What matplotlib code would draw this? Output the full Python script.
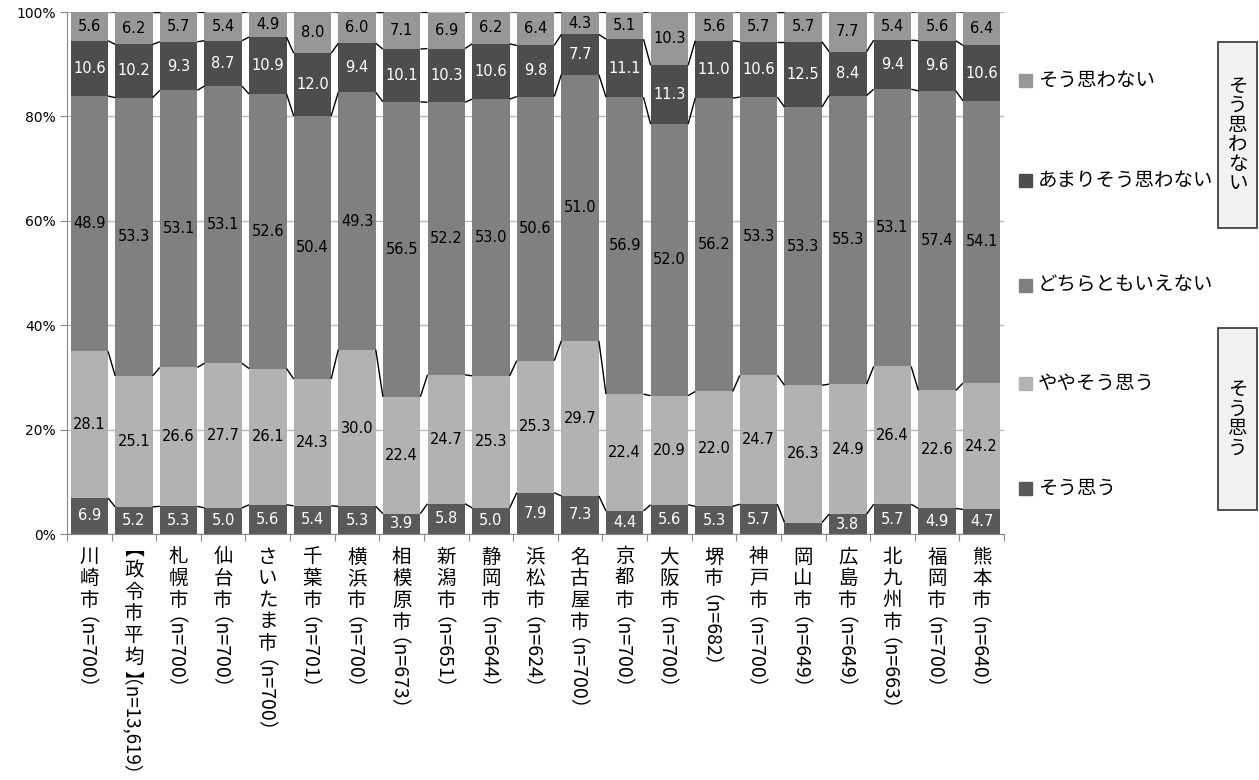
import matplotlib
matplotlib.use("Agg")
import matplotlib.pyplot as plt
from matplotlib.patches import Rectangle
import numpy as np

plt.rcParams['font.family'] = ['Noto Sans CJK JP', 'DejaVu Sans']

cities = ["川崎市", "【政令市平均】", "札幌市", "仙台市", "さいたま市", "千葉市", "横浜市",
          "相模原市", "新潟市", "静岡市", "浜松市", "名古屋市", "京都市", "大阪市", "堺市",
          "神戸市", "岡山市", "広島市", "北九州市", "福岡市", "熊本市"]
sample_n = ["（n=700）", "（n=13,619）", "（n=700）", "（n=700）", "（n=700）", "（n=701）",
            "（n=700）", "（n=673）", "（n=651）", "（n=644）", "（n=624）", "（n=700）",
            "（n=700）", "（n=700）", "（n=682）", "（n=700）", "（n=649）", "（n=649）",
            "（n=663）", "（n=700）", "（n=640）"]

series_names = ["そう思う", "ややそう思う", "どちらともいえない", "あまりそう思わない", "そう思わない"]
sou_omou = [6.9, 5.2, 5.3, 5.0, 5.6, 5.4, 5.3, 3.9, 5.8, 5.0, 7.9, 7.3, 4.4, 5.6, 5.3, 5.7, 2.2, 3.8, 5.7, 4.9, 4.7]
yaya = [28.1, 25.1, 26.6, 27.7, 26.1, 24.3, 30.0, 22.4, 24.7, 25.3, 25.3, 29.7, 22.4, 20.9, 22.0, 24.7, 26.3, 24.9, 26.4, 22.6, 24.2]
dochira = [48.9, 53.3, 53.1, 53.1, 52.6, 50.4, 49.3, 56.5, 52.2, 53.0, 50.6, 51.0, 56.9, 52.0, 56.2, 53.3, 53.3, 55.3, 53.1, 57.4, 54.1]
amari = [10.6, 10.2, 9.3, 8.7, 10.9, 12.0, 9.4, 10.1, 10.3, 10.6, 9.8, 7.7, 11.1, 11.3, 11.0, 10.6, 12.5, 8.4, 9.4, 9.6, 10.6]
omowanai = [5.6, 6.2, 5.7, 5.4, 4.9, 8.0, 6.0, 7.1, 6.9, 6.2, 6.4, 4.3, 5.1, 10.3, 5.6, 5.7, 5.7, 7.7, 5.4, 5.6, 6.4]

series = [sou_omou, yaya, dochira, amari, omowanai]
colors = ["#595959", "#b2b2b2", "#808080", "#4d4d4d", "#979797"]
label_colors = ["white", "black", "black", "white", "black"]

W, H = 1259, 780
fig = plt.figure(figsize=(W / 100, H / 100), dpi=100)
ax = fig.add_axes([67 / W, (H - 534) / H, (1004 - 67) / W, (534 - 12) / H])

n = len(cities)
x = np.arange(n)
bw = 0.84
bottom = np.zeros(n)
tops = []
for vals, col, lc in zip(series, colors, label_colors):
    v = np.array(vals)
    ax.bar(x, v, bw, bottom=bottom, color=col, zorder=2, linewidth=0)
    for i in range(n):
        if v[i] >= 3:
            ax.text(x[i], bottom[i] + v[i] / 2, f"{v[i]:.1f}", ha="center", va="center",
                    color=lc, fontsize=10.5, family="DejaVu Sans", zorder=4)
    bottom = bottom + v
    tops.append(bottom.copy())

# series lines
for cum in tops:
    for i in range(n - 1):
        ax.plot([x[i] + bw / 2, x[i + 1] - bw / 2], [cum[i], cum[i + 1]], color="black",
                lw=1.0, zorder=3, solid_capstyle="butt")

ax.set_xlim(-0.5, n - 0.5)
ax.set_ylim(0, 100)
ax.set_yticks([0, 20, 40, 60, 80, 100])
ax.set_yticklabels(["0%", "20%", "40%", "60%", "80%", "100%"], fontsize=10, family="DejaVu Sans")
ax.yaxis.grid(True, color="#b8b8b8", lw=1.0, zorder=0)
ax.set_axisbelow(True)
for s in ["top", "right"]:
    ax.spines[s].set_visible(False)
ax.spines["left"].set_color("#888888")
ax.spines["bottom"].set_color("#888888")
ax.tick_params(axis="y", length=5, color="#888888", pad=3)
ax.set_xticks(np.arange(-0.5, n, 1.0))
ax.set_xticklabels([])
ax.tick_params(axis="x", length=5, color="#888888", direction="out")

# vertical x labels (offsets in points; 1 px = 0.72 pt)
pitch = 15.6
start = 9.0
fs = 14


def rot_text(i, s, ypos, size, dx):
    ax.annotate(s, xy=(x[i], 0), xycoords=("data", "axes fraction"),
                xytext=(dx, -ypos), textcoords="offset points",
                ha="left", va="center", rotation=270, rotation_mode="anchor",
                fontsize=size, annotation_clip=False)


for i, (c, s) in enumerate(zip(cities, sample_n)):
    pos = start
    for ch in c:
        if ch == "【":
            rot_text(i, ch, pos + 2.5, fs, -10.6)
            pos += 9.7
        elif ch == "】":
            rot_text(i, ch, pos + 1.2, fs, -1.7)
            pos += 4.7
        else:
            ax.annotate(ch, xy=(x[i], 0), xycoords=("data", "axes fraction"),
                        xytext=(0, -pos), textcoords="offset points",
                        ha="center", va="top", fontsize=fs, annotation_clip=False)
            pos += pitch
    size_n = fs if len(s) < 9 else 13.5
    rot_text(i, s, pos + 3.0, size_n, -0.79 * size_n)

# legend (top to bottom)
leg_y = [80, 180, 285, 383, 488]
for name, col, yy in zip(series_names[::-1], colors[::-1], leg_y):
    fig.patches.append(Rectangle((1019 / W, (H - yy - 7) / H), 13 / W, 13 / H,
                                 transform=fig.transFigure, color=col))
    fig.text(1038 / W, (H - yy) / H, name, fontsize=14, va="center", ha="left")

# group boxes
for (y0, y1, txt) in [(42, 228, "そう思わない"), (328, 510, "そう思う")]:
    fig.patches.append(Rectangle((1218 / W, (H - y1) / H), 39 / W, (y1 - y0) / H,
                                 transform=fig.transFigure, facecolor="#f2f2f2",
                                 edgecolor="#333333", lw=1.2))
    cy = (y0 + y1) / 2
    pitch_px = 19.5
    tot = pitch_px * len(txt)
    for k, ch in enumerate(txt):
        yy = cy - tot / 2 + pitch_px * (k + 0.5)
        fig.text(1238 / W, (H - yy) / H, ch, fontsize=14, ha="center", va="center")

fig.savefig("out.png", dpi=100)
